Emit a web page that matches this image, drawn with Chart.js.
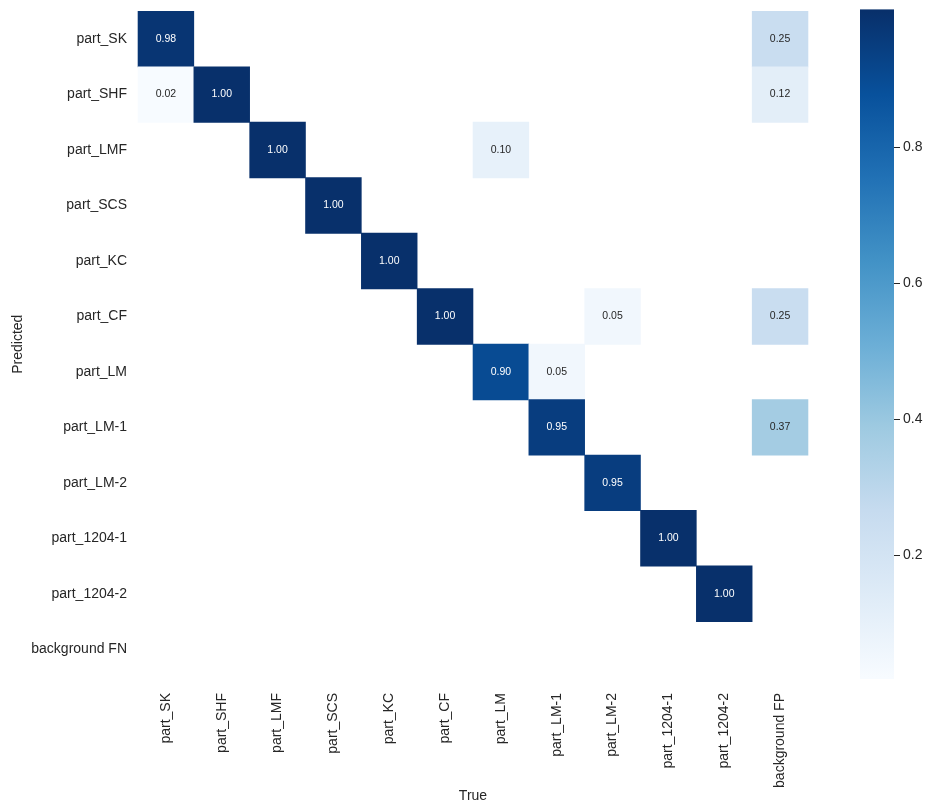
<!DOCTYPE html>
<html>
<head>
<meta charset="utf-8">
<script src="https://cdn.jsdelivr.net/npm/chart.js@4/dist/chart.umd.min.js"></script>
<style>
  body { margin: 0; background: #fff; }
  #wrap { width: 927px; height: 809px; position: relative; }
</style>
</head>
<body>
<div id="wrap"><canvas id="cm"></canvas></div>
<script>
// class names (rows = predicted, columns = true)
const rowLabels = ['part_SK','part_SHF','part_LMF','part_SCS','part_KC','part_CF','part_LM','part_LM-1','part_LM-2','part_1204-1','part_1204-2','background FN']
const colLabels = ['part_SK','part_SHF','part_LMF','part_SCS','part_KC','part_CF','part_LM','part_LM-1','part_LM-2','part_1204-1','part_1204-2','background FP']

// non-zero cells of the normalised confusion matrix
const cellRow = [0,    0,    1,    1,    1,    2,    2,    3,    4,    5,    5,    5,    6,    6,    7,    7,    8,    9,    10]
const cellCol = [0,    11,   0,    1,    11,   2,    6,    3,    4,    5,    8,    11,   6,    7,    7,    11,   8,    9,    10]
const cellVal = [0.98, 0.25, 0.02, 1.00, 0.12, 1.00, 0.10, 1.00, 1.00, 1.00, 0.05, 0.25, 0.90, 0.05, 0.95, 0.37, 0.95, 1.00, 1.00]

const colorbarTicks = [0.2, 0.4, 0.6, 0.8]
const vmin = 0.02, vmax = 1.0

// matplotlib "Blues"
const bluesStops = ['#f7fbff','#deebf7','#c6dbef','#9ecae1','#6baed6','#4292c6','#2171b5','#08519c','#08306b']

function hexRgb(h) {
    return [parseInt(h.slice(1,3),16), parseInt(h.slice(3,5),16), parseInt(h.slice(5,7),16)]
}
function blues(t) {
    t = Math.max(0, Math.min(1, t))
    const pos = t * (bluesStops.length - 1)
    const i = Math.min(Math.floor(pos), bluesStops.length - 2)
    const f = pos - i
    const a = hexRgb(bluesStops[i]), b = hexRgb(bluesStops[i+1])
    return a.map((c, k) => Math.round(c + (b[k] - c) * f))
}
const norm = v => (v - vmin) / (vmax - vmin)
const rgbStr = c => 'rgb(' + c.join(',') + ')'

function luminance(c) {
    const l = c.map(x => { x = x / 255; return x <= 0.03928 ? x / 12.92 : Math.pow((x + 0.055) / 1.055, 2.4) })
    return 0.2126 * l[0] + 0.7152 * l[1] + 0.0722 * l[2]
}

const cells = cellVal.map((v, i) => ({x: colLabels[cellCol[i]], y: rowLabels[cellRow[i]], v: v}))

const textColor = '#262626'
const fontFamily = '"Liberation Sans", Arial, Helvetica, sans-serif'

// square side = one category step, pointStyle rect side = 2*r*sqrt(1/2)
const cellRadius = (ctx) => {
    const s = ctx.chart.scales.x
    if (!s) return 20
    const step = Math.abs(s.getPixelForValue(1) - s.getPixelForValue(0))
    return (step + 0.6) / 2 / Math.SQRT1_2
}

const annotate = {
    id: 'annotate',
    afterDatasetsDraw(chart) {
        const c = chart.ctx
        const meta = chart.getDatasetMeta(0)
        c.save()
        c.font = '10.5px ' + fontFamily
        c.textAlign = 'center'
        c.textBaseline = 'middle'
        meta.data.forEach((el, i) => {
            const v = cells[i].v
            const col = blues(norm(v))
            c.fillStyle = luminance(col) < 0.408 ? '#ffffff' : textColor
            c.fillText(v.toFixed(2), el.x, el.y)
        })
        c.restore()
    }
}

const colorbar = {
    id: 'colorbar',
    afterDraw(chart) {
        const s = chart.scales.cb
        const c = chart.ctx
        const x0 = s.left + 52, w = 34
        const top = s.getPixelForValue(vmax), bottom = s.getPixelForValue(vmin)
        const g = c.createLinearGradient(0, bottom, 0, top)
        bluesStops.forEach((col, i) => g.addColorStop(i / (bluesStops.length - 1), col))
        c.save()
        c.fillStyle = g
        c.fillRect(x0, top - 2, w, bottom - top + 4)
        c.strokeStyle = textColor
        c.lineWidth = 1
        colorbarTicks.forEach(v => {
            const y = Math.round(s.getPixelForValue(v)) + 0.5
            c.beginPath()
            c.moveTo(x0 + w, y)
            c.lineTo(x0 + w + 6, y)
            c.stroke()
        })
        c.restore()
    }
}

new Chart(document.getElementById('cm'), {
    type: 'scatter',
    data: {
        datasets: [{
            data: cells,
            pointStyle: 'rect',
            pointRadius: cellRadius,
            pointHoverRadius: cellRadius,
            pointBorderWidth: 0,
            pointHoverBorderWidth: 0,
            pointBackgroundColor: (ctx) => ctx.raw ? rgbStr(blues(norm(ctx.raw.v))) : 'transparent',
            pointHoverBackgroundColor: (ctx) => ctx.raw ? rgbStr(blues(norm(ctx.raw.v))) : 'transparent'
        }]
    },
    options: {
        responsive: true,
        maintainAspectRatio: false,
        animation: false,
        events: [],
        layout: {padding: {top: 10, left: 0, right: 0, bottom: 0}},
        plugins: {legend: {display: false}, tooltip: {enabled: false}},
        scales: {
            x: {
                type: 'category',
                labels: colLabels,
                offset: true,
                grid: {display: false, drawTicks: true, tickLength: 13},
                border: {display: false},
                ticks: {autoSkip: false, minRotation: 90, maxRotation: 90, padding: 3,
                        color: textColor, font: {size: 14, family: fontFamily}},
                title: {display: true, text: 'True', color: textColor,
                        font: {size: 14, family: fontFamily}, padding: {top: 4, bottom: 4}},
                afterFit: (s) => { s.height = 132 }
            },
            y: {
                type: 'category',
                labels: rowLabels,
                offset: true,
                grid: {display: false, drawTicks: true, tickLength: 8},
                border: {display: false},
                ticks: {autoSkip: false, padding: 3, color: textColor, font: {size: 14, family: fontFamily}},
                title: {display: true, text: 'Predicted', color: textColor,
                        font: {size: 14, family: fontFamily}, padding: {top: 10, bottom: 4}},
                afterFit: (s) => { s.width = 138 }
            },
            cb: {
                type: 'linear',
                position: 'right',
                min: vmin,
                max: vmax,
                grid: {display: false, drawTicks: true, tickLength: 92},
                border: {display: false},
                ticks: {padding: 3, color: textColor, font: {size: 14, family: fontFamily},
                        callback: (v) => v.toFixed(1)},
                afterBuildTicks: (s) => { s.ticks = colorbarTicks.map(v => ({value: v})) },
                afterFit: (s) => { s.width = 119 }
            }
        }
    },
    plugins: [annotate, colorbar]
})
</script>
</body>
</html>
